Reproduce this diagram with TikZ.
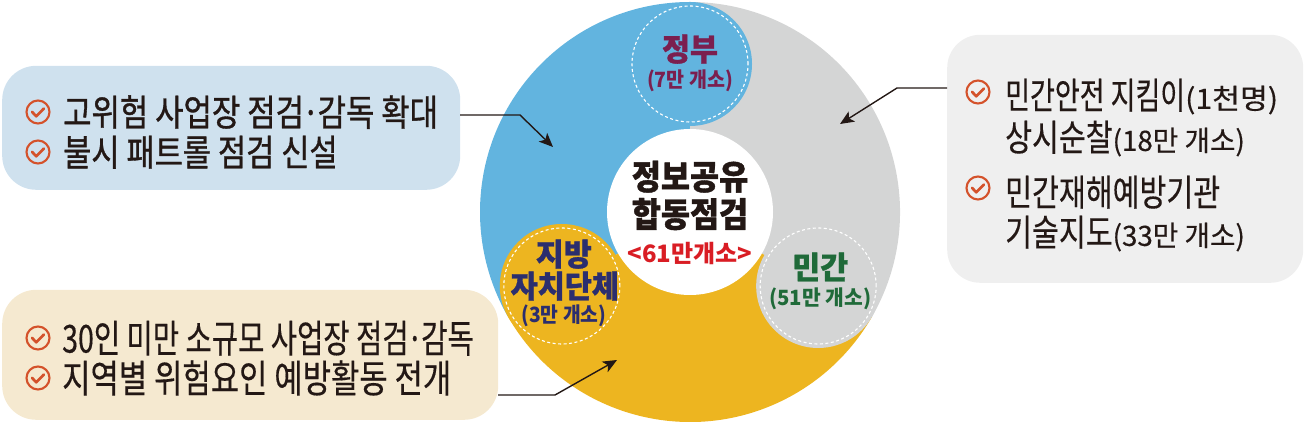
\documentclass[tikz,border=0pt]{standalone}
\usepackage{fontspec}
\usepackage{graphicx}
\usetikzlibrary{arrows.meta,calc}
\newfontfamily\kr{Noto Sans CJK KR}
\newfontfamily\krr[FakeBold=0.4]{Noto Sans CJK KR}
\newfontfamily\krm[FakeBold=1.0]{Noto Sans CJK KR}
\newfontfamily\krh[FakeBold=1.2]{Noto Sans CJK KR}
\newcommand\hs[2]{\scalebox{#1}[1]{#2}}
\newcommand\fsz[1]{\fontsize{#1}{#1}\selectfont}
\newcommand\mdot{\kern-0.06em·\kern-0.06em}
\definecolor{cblue}{HTML}{62B4DF}
\definecolor{cgray}{HTML}{D4D5D5}
\definecolor{cyel}{HTML}{EDB520}
\definecolor{boxblue}{HTML}{CFE1EE}
\definecolor{boxcream}{HTML}{F5E9D0}
\definecolor{boxgray}{HTML}{EFEFEF}
\definecolor{chkred}{HTML}{D4522B}
\definecolor{ink}{HTML}{231815}
\definecolor{govc}{HTML}{7B1F4F}
\definecolor{locc}{HTML}{2B2E6E}
\definecolor{pric}{HTML}{1F6A39}
\definecolor{redc}{HTML}{D91D24}
\tikzset{
  txt/.style={inner sep=0pt, anchor=base west, text=ink},
  lab/.style={inner sep=0pt, anchor=base},
  infobox/.style={rounded corners=34pt, inner sep=0pt, anchor=south west},
  arr/.style={line width=1.4pt, draw=ink, -{Stealth[length=14pt,width=12pt,inset=3.5pt]}},
  dashc/.style={draw=white, line width=1.1pt, dash pattern=on 3pt off 2.5pt},
  seg/.style={circle, inner sep=0pt, minimum size=124pt},
  chk/.pic={
    \draw[chkred, line width=2.1pt] (0,0) circle (11.5);
    \draw[chkred, line width=2.7pt, line cap=round, line join=round] (-6,0.2) -- (-1.8,-4.3) -- (5.9,3.5);
  }
}
\begin{document}
\begin{tikzpicture}[x=1pt,y=1pt]
\useasboundingbox (0,0) rectangle (1306,422);
% info boxes
\node[infobox, fill=boxblue, minimum width=458pt, minimum height=124pt] (b1) at (2,232) {};
\node[infobox, fill=boxcream, minimum width=496pt, minimum height=130pt] (b2) at (2,2) {};
\node[infobox, fill=boxgray, minimum width=356pt, minimum height=248pt, rounded corners=33pt] (b3) at (947,139) {};
% ring
\coordinate (C) at (690,210);
\fill[cblue] (C) -- ++(90:210) arc (90:210:210) -- cycle;
\fill[cgray] (C) -- ++(-30:210) arc (-30:90:210) -- cycle;
\fill[cyel] (C) -- ++(210:210) arc (210:330:210) -- cycle;
\node[seg, fill=cblue] (gov) at ($(C)+(90:148)$) {};
\node[seg, fill=cyel] (loc) at ($(C)+(210:148)$) {};
\node[seg, fill=cgray] (pri) at ($(C)+(330:148)$) {};
\draw[dashc] (gov.center) circle (58);
\draw[dashc] (loc.center) circle (58);
\draw[dashc] (pri.center) circle (58);
\node[circle, fill=white, inner sep=0pt, minimum size=166pt] (ctr) at (C) {};
% ring labels
\node[lab, text=govc, font=\krm\bfseries\fsz{31}] at ($(gov.center)+(0,3.2)$) {\hs{0.98}{정부}};
\node[lab, text=govc, font=\kr\bfseries\fsz{21}] at ($(gov.center)+(0,-24)$) {\hs{0.93}{(7만 개소)}};
\node[lab, text=locc, font=\krm\bfseries\fsz{31}] at ($(loc.center)+(2,20.2)$) {\hs{0.98}{지방}};
\node[lab, text=locc, font=\krm\bfseries\fsz{31}] at ($(loc.center)+(3,-11.8)$) {\hs{0.95}{자치단체}};
\node[lab, text=locc, font=\kr\bfseries\fsz{21}] at ($(loc.center)+(2,-37)$) {\hs{0.92}{(3만 개소)}};
\node[lab, text=pric, font=\krm\bfseries\fsz{31}] at ($(pri.center)+(2,7.2)$) {\hs{0.98}{민간}};
\node[lab, text=pric, font=\kr\bfseries\fsz{21}] at ($(pri.center)+(2,-20)$) {\hs{0.97}{(51만 개소)}};
\node[lab, text=ink, font=\krh\bfseries\fsz{34}] at (690,232.6) {\hs{0.93}{정보공유}};
\node[lab, text=ink, font=\krh\bfseries\fsz{34}] at (690,195.1) {\hs{0.93}{합동점검}};
\node[lab, text=redc, font=\kr\bfseries\fsz{24}] at (690,159.9) {\hs{1.0}{<61만개소>}};
% box texts
\pic at (38,310) {chk};
\pic at (38,270) {chk};
\node[txt, font=\krm\fsz{36.5}] (t11) at (63,296.1) {\hs{0.845}{고위험 사업장 점검\mdot 감독 확대}};
\node[txt, font=\krm\fsz{36.5}] (t12) at (63,256.1) {\hs{0.84}{불시 패트롤 점검 신설}};
\pic at (38,84) {chk};
\pic at (38,44) {chk};
\node[txt, font=\krr\fsz{38.5}] (t21) at (62,69.4) {\hs{0.742}{30인 미만 소규모 사업장 점검\mdot 감독}};
\node[txt, font=\krr\fsz{38.5}] (t22) at (62,29.4) {\hs{0.8}{지역별 위험요인 예방활동 전개}};
\pic at (978,330) {chk};
\pic at (978,234) {chk};
\node[txt, font=\krr\fsz{36.5}] (t31) at (1005,313.1) {\hs{0.74}{민간안전 지킴이}\hs{1.08}{\fsz{28}(1천명)}};
\node[txt, font=\krr\fsz{36.5}] (t32) at (1005,271.1) {\hs{0.8}{상시순찰}\hs{0.99}{\fsz{28}(18만 개소)}};
\node[txt, font=\krr\fsz{36.5}] (t33) at (1005,216.1) {\hs{0.8}{민간재해예방기관}};
\node[txt, font=\krr\fsz{36.5}] (t34) at (1005,176.1) {\hs{0.8}{기술지도}\hs{0.99}{\fsz{28}(33만 개소)}};
% connectors
\coordinate (a1) at (460,307);
\coordinate (k1) at (520,307);
\coordinate (e1) at (553,275);
\draw[arr] (a1) -- (k1) -- (e1);
\coordinate (a3) at (947,334);
\coordinate (k3) at (897,334);
\coordinate (e3) at (840,298);
\draw[arr] (a3) -- (k3) -- (e3);
\coordinate (a2) at (498,27);
\coordinate (k2) at (555,27);
\coordinate (e2) at (617,62);
\draw[arr] (a2) -- (k2) -- (e2);
\end{tikzpicture}
\end{document}
